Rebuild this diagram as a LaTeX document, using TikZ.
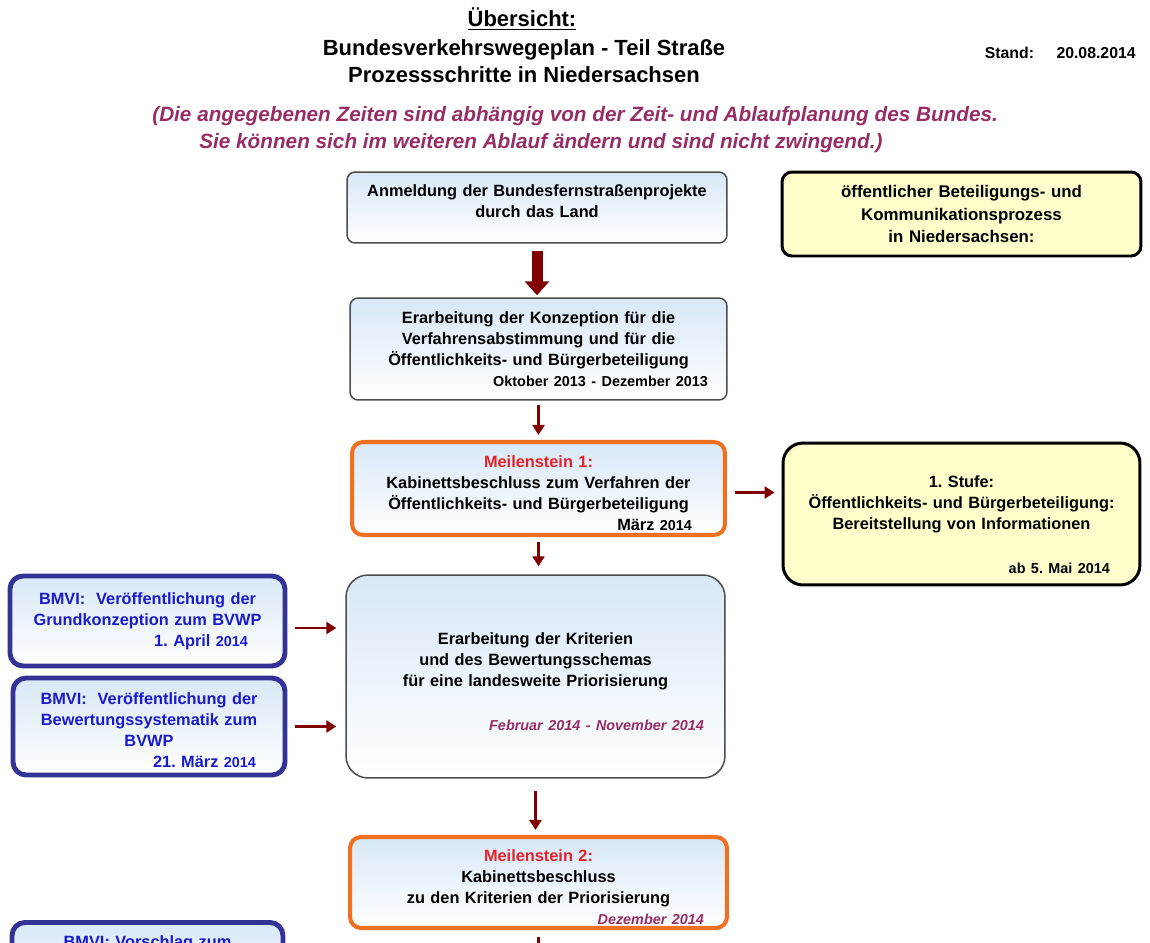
\documentclass[tikz,border=0pt]{standalone}
\usepackage{fontspec}
\setmainfont{Liberation Sans}
\usepackage{tikz}
\usetikzlibrary{arrows,arrows.meta,positioning}

\definecolor{pfeilrot}{RGB}{128,0,0}
\definecolor{notiz}{RGB}{150,45,100}
\definecolor{msrot}{RGB}{228,32,40}
\definecolor{msorange}{RGB}{240,112,32}
\definecolor{bmviblau}{RGB}{51,51,150}
\definecolor{bmvitext}{RGB}{26,26,204}
\definecolor{hellblau}{RGB}{216,232,247}
\definecolor{hellgelb}{RGB}{255,255,204}

\newcommand{\jahr}[1]{{\fontsize{8.2}{12}\selectfont #1}}
\newcommand{\zeit}[1]{{\fontsize{8.2}{12}\selectfont\itshape\color{notiz}#1}}

\begin{document}
\frenchspacing
\begin{tikzpicture}[x=0.02cm,y=-0.02cm]
            \tikzstyle{box}=[rectangle,align=center,inner sep=0pt,font=\fontsize{9.3}{12}\selectfont\bfseries]
            \tikzstyle{kopf}=[font=\fontsize{12.5}{15}\selectfont\bfseries,anchor=base]
            \tikzstyle{hinweis}=[font=\fontsize{11.8}{15}\selectfont\bfseries\itshape,text=notiz,anchor=base west,inner sep=0pt]

            \tikzstyle{S}=[box,draw=black!70,line width=0.85pt,top color=hellblau,bottom color=white,rounded corners=0.16cm]   % Arbeitsschritt
            \tikzstyle{M}=[box,draw=msorange,line width=2.3pt,top color=hellblau,bottom color=white,rounded corners=0.22cm]    % Meilenstein
            \tikzstyle{O}=[box,draw=black,line width=1.7pt,fill=hellgelb]                                                   % Beteiligung
            \tikzstyle{V}=[box,draw=bmviblau,line width=2.8pt,top color=hellblau,bottom color=white,text=bmvitext,rounded corners=0.26cm] % BMVI

            \tikzstyle{pfeil}=[color=pfeilrot,line width=1.5pt,-{Triangle[length=0.2cm,width=0.24cm]}]
            \tikzstyle{dick}=[color=pfeilrot,line width=0.22cm,-{Triangle[length=0.28cm,width=0.48cm]}]

            \useasboundingbox (0,0) rectangle (1150,943);
            \clip (0,0) rectangle (1150,943);

            % Kopf
            \node[kopf] (t0) at (522,27) {\underline{Übersicht:}};
            \node[kopf] (t1) at (524,55) {Bundesverkehrswegeplan - Teil Straße};
            \node[kopf] (t2) at (524,82) {Prozessschritte in Niedersachsen};
            \node[font=\fontsize{9}{12}\selectfont\bfseries,anchor=base east,inner sep=0pt] (stand) at (1136,58) {Stand:\hspace{0.45cm}20.08.2014};
            \node[hinweis] (h1) at (152,121) {(Die angegebenen Zeiten sind abhängig von der Zeit- und Ablaufplanung des Bundes.};
            \node[hinweis] (h2) at (199,148) {Sie können sich im weiteren Ablauf ändern und sind nicht zwingend.)};

            % Ablauf
            \node[S,minimum width=7.6cm,minimum height=1.42cm,text width=7.2cm] (1) at (537,207.5)
                {Anmeldung der Bundesfernstraßenprojekte\\durch das Land\rule[-6.8pt]{0pt}{0pt}};
            \node[S,minimum width=7.54cm,minimum height=2.04cm,text width=7.22cm] (2) at (538.5,349)
                {Erarbeitung der Konzeption für die\\Verfahrensabstimmung und für die\\Öffentlichkeits- und Bürgerbeteiligung\\\hspace*{\fill}\jahr{Oktober 2013 - Dezember 2013}\hspace*{0.22cm}\mbox{}};
            \node[M,minimum width=7.46cm,minimum height=1.86cm,text width=7.14cm] (3) at (538.5,488.5)
                {\rule{0pt}{12.4pt}\textcolor{msrot}{Meilenstein 1:}\\Kabinettsbeschluss zum Verfahren der\\Öffentlichkeits- und Bürgerbeteiligung\\\hspace*{\fill}März \jahr{2014}\hspace*{0.5cm}\mbox{}};
            \node[S,rounded corners=0.44cm,minimum width=7.58cm,minimum height=4.06cm,text width=7.26cm] (4) at (535.5,676.5)
                {\rule{0pt}{12.4pt}Erarbeitung der Kriterien\\und des Bewertungsschemas\\für eine landesweite Priorisierung\\[0.46cm]\hspace*{\fill}\zeit{Februar 2014 - November 2014}\hspace*{0.26cm}\mbox{}};
            \node[M,minimum width=7.54cm,minimum height=1.82cm,text width=7.22cm] (5) at (538.5,882.5)
                {\rule{0pt}{12.4pt}\textcolor{msrot}{Meilenstein 2:}\\Kabinettsbeschluss\\zu den Kriterien der Priorisierung\\\hspace*{\fill}\zeit{Dezember 2014}\hspace*{0.3cm}\mbox{}};

            % Beteiligung
            \node[O,rounded corners=0.2cm,minimum width=7.18cm,minimum height=1.68cm,text width=6.86cm,font=\fontsize{9.6}{12.8}\selectfont\bfseries] (6) at (961.5,214)
                {öffentlicher Beteiligungs- und\\Kommunikationsprozess\\in Niedersachsen:};
            \node[O,rounded corners=0.4cm,minimum width=7.14cm,minimum height=2.84cm,text width=6.82cm] (7) at (961.5,514)
                {\rule{0pt}{19.2pt}1. Stufe:\\Öffentlichkeits- und Bürgerbeteiligung:\\Bereitstellung von Informationen\\[0.46cm]\hspace*{\fill}\jahr{ab 5. Mai 2014}\hspace*{0.44cm}\mbox{}};

            % BMVI
            \node[V,minimum width=5.5cm,minimum height=1.8cm,text width=5.18cm] (8) at (147.5,621)
                {BMVI:\ \ Veröffentlichung der\\Grundkonzeption zum BVWP\\\hspace*{\fill}1. April \jahr{2014}\hspace*{0.58cm}\mbox{}};
            \node[V,minimum width=5.44cm,minimum height=1.94cm,text width=5.12cm] (9) at (149,726.5)
                {\rule{0pt}{11.2pt}BMVI:\ \ Veröffentlichung der\\Bewertungssystematik zum\\BVWP\\\hspace*{\fill}21. März \jahr{2014}\hspace*{0.42cm}\mbox{}};
            \node[V,anchor=north,minimum width=5.42cm,minimum height=1.8cm,text width=5.1cm,text depth=1.02cm] (10) at (147.5,920)
                {BMVI: Vorschlag zum};
            \coordinate (11) at (541,990);

            \path[dick]  (1.south) edge[shorten <=0.14cm,shorten >=0.04cm] (1.south |- 2.north);
            \path[pfeil] (2.south) edge[shorten <=0.08cm,shorten >=0.1cm]  (2.south |- 3.north);
            \path[pfeil] (3.south) edge[shorten <=0.1cm,shorten >=0.16cm]  (3.south |- 4.north);
            \path[pfeil] (4.south) edge[shorten <=0.24cm,shorten >=0.1cm]  (4.south |- 5.north);
            \path[pfeil] (5.south) edge[shorten <=0.14cm]                  (5.south |- 11);
            \path[pfeil] ([yshift=-0.08cm]3.east) edge[shorten <=0.16cm,shorten >=0.14cm] ([yshift=-0.08cm]3.east -| 7.west);
            \path[pfeil] ([yshift=-0.14cm]8.east) edge[shorten <=0.16cm,shorten >=0.18cm] ([yshift=-0.14cm]8.east -| 4.west);
            \path[pfeil] (9.east)  edge[shorten <=0.16cm,shorten >=0.18cm] (9.east -| 4.west);
        \end{tikzpicture}
\end{document}
